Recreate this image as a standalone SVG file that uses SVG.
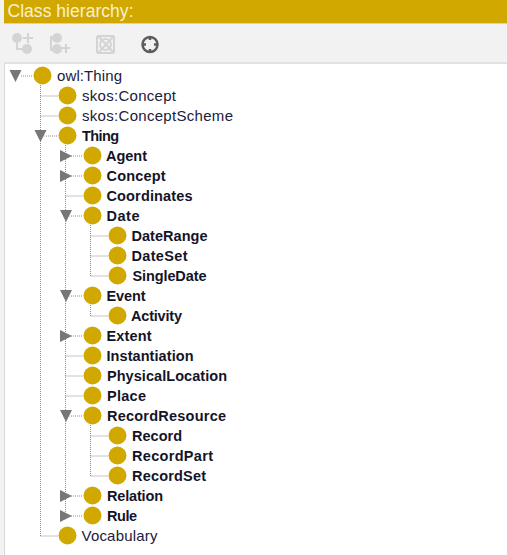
<svg xmlns="http://www.w3.org/2000/svg" width="507" height="555" viewBox="0 0 507 555">
<style>
text{font-family:"Liberation Sans",Arial,sans-serif;font-size:15px;fill:#20203c}
.b{font-weight:bold;fill:#141428;font-size:14.500px}
.n{fill:#d1a800}
.l{stroke:#8c8c8c;stroke-width:1;stroke-dasharray:1 1;fill:none}
.t{fill:#777}
.i{fill:none;stroke:#d4d4d4;stroke-width:2}
.f{fill:#d4d4d4}
</style>
<rect width="507" height="555" fill="#fff"/>
<rect width="4" height="555" fill="#f2f2f2"/>
<rect x="4" width="503" height="23.500" fill="#d1a800"/>
<text x="7.500" y="17" style="font-size:17.500px;fill:#f8f0d0" textLength="126">Class hierarchy:</text>
<rect x="4" y="24" width="503" height="38" fill="#f2f2f2"/>
<rect x="4" y="62" width="503" height="2" fill="#e2e2e2"/>
<rect x="4" y="63" width="1" height="492" fill="#d8d8d8"/>
<g id="toolbar">
<circle cx="17" cy="38" r="5" class="f"/><circle cx="27" cy="49" r="5" class="f"/><path d="M17 38V49H27M28 33v10M23 38h10" class="i"/>
<circle cx="57" cy="38" r="5" class="f"/><circle cx="57" cy="49" r="5" class="f"/><path d="M51 36v14h6M66 44v9M61 48h9" class="i"/>
<path d="M97 36h17M97 53h17M97 36v17M114 36v17M98 36l16 17M114 36l-16 17" class="i" stroke-width="1.500"/><circle cx="105.500" cy="44.500" r="5.500" fill="none" stroke="#d4d4d4" stroke-width="2"/>
<circle cx="150" cy="44.500" r="7.500" fill="none" stroke="#5c5c5c" stroke-width="2.500"/><path d="M150 37v3M150 49v3M143 44.500h3M154 44.500h3" stroke="#5c5c5c" stroke-width="2.500"/>
</g>
<g id="connectors" class="l">
<path d="M40.500 85V536M40.500 96H58M40.500 116H58M40.500 136H45M40.500 536H58"/>
<path d="M65.500 145V516M65.500 196H83M65.500 156H70M65.500 176H70M65.500 216H70M65.500 296H70M65.500 336H70M65.500 356H83M65.500 376H83M65.500 396H83M65.500 416H70M65.500 496H70M65.500 516H70"/>
<path d="M90.500 225V276M90.500 236H108M90.500 256H108M90.500 276H108"/>
<path d="M90.500 305V316M90.500 316H108"/>
<path d="M90.500 425V476M90.500 436H108M90.500 456H108M90.500 476H108"/>
<path d="M21 76H33M46 136H58M71 156H83M71 176H83M71 216H83M71 296H83M71 336H83M71 416H83M71 496H83M71 516H83"/>
</g>
<g id="toggles" class="t">
<path d="M9.500 70H21.500L15.500 82Z"/><path d="M34.500 130H46.500L40.500 142Z"/>
<path d="M60 150V162L72 156Z"/><path d="M60 170V182L72 176Z"/>
<path d="M60 210H72L66 222Z"/><path d="M60 290H72L66 302Z"/>
<path d="M60 330V342L72 336Z"/><path d="M60 410H72L66 422Z"/>
<path d="M60 490V502L72 496Z"/><path d="M60 510V522L72 516Z"/>
</g>
<g id="owl-Thing"><circle class="n" cx="42.500" cy="75.500" r="9"/><text x="57" y="81" textLength="65">owl:Thing</text></g>
<g id="skos-Concept"><circle class="n" cx="67.500" cy="95.500" r="9"/><text x="82" y="101" textLength="94">skos:Concept</text></g>
<g id="skos-ConceptScheme"><circle class="n" cx="67.500" cy="115.500" r="9"/><text x="82" y="121" textLength="151">skos:ConceptScheme</text></g>
<g id="Thing"><circle class="n" cx="67.500" cy="135.500" r="9"/><text class="b" x="82" y="141" textLength="37">Thing</text></g>
<g id="Agent"><circle class="n" cx="92.500" cy="155.500" r="9"/><text class="b" x="106" y="161" textLength="41">Agent</text></g>
<g id="Concept"><circle class="n" cx="92.500" cy="175.500" r="9"/><text class="b" x="106.500" y="181" textLength="59">Concept</text></g>
<g id="Coordinates"><circle class="n" cx="92.500" cy="195.500" r="9"/><text class="b" x="106.500" y="201" textLength="86">Coordinates</text></g>
<g id="Date"><circle class="n" cx="92.500" cy="215.500" r="9"/><text class="b" x="106.500" y="221" textLength="33">Date</text></g>
<g id="DateRange"><circle class="n" cx="117.500" cy="235.500" r="9"/><text class="b" x="131.500" y="241" textLength="76">DateRange</text></g>
<g id="DateSet"><circle class="n" cx="117.500" cy="255.500" r="9"/><text class="b" x="131.500" y="261" textLength="56">DateSet</text></g>
<g id="SingleDate"><circle class="n" cx="117.500" cy="275.500" r="9"/><text class="b" x="132.500" y="281" textLength="74">SingleDate</text></g>
<g id="Event"><circle class="n" cx="92.500" cy="295.500" r="9"/><text class="b" x="106.500" y="301" textLength="39">Event</text></g>
<g id="Activity"><circle class="n" cx="117.500" cy="315.500" r="9"/><text class="b" x="131" y="321" textLength="51">Activity</text></g>
<g id="Extent"><circle class="n" cx="92.500" cy="335.500" r="9"/><text class="b" x="106.500" y="341" textLength="45">Extent</text></g>
<g id="Instantiation"><circle class="n" cx="92.500" cy="355.500" r="9"/><text class="b" x="106.500" y="361" textLength="87">Instantiation</text></g>
<g id="PhysicalLocation"><circle class="n" cx="92.500" cy="375.500" r="9"/><text class="b" x="107" y="381" textLength="120">PhysicalLocation</text></g>
<g id="Place"><circle class="n" cx="92.500" cy="395.500" r="9"/><text class="b" x="107" y="401" textLength="39">Place</text></g>
<g id="RecordResource"><circle class="n" cx="92.500" cy="415.500" r="9"/><text class="b" x="107" y="421" textLength="119">RecordResource</text></g>
<g id="Record"><circle class="n" cx="117.500" cy="435.500" r="9"/><text class="b" x="132" y="441" textLength="50">Record</text></g>
<g id="RecordPart"><circle class="n" cx="117.500" cy="455.500" r="9"/><text class="b" x="132" y="461" textLength="81">RecordPart</text></g>
<g id="RecordSet"><circle class="n" cx="117.500" cy="475.500" r="9"/><text class="b" x="132" y="481" textLength="74">RecordSet</text></g>
<g id="Relation"><circle class="n" cx="92.500" cy="495.500" r="9"/><text class="b" x="107" y="501" textLength="56">Relation</text></g>
<g id="Rule"><circle class="n" cx="92.500" cy="515.500" r="9"/><text class="b" x="107" y="521" textLength="30">Rule</text></g>
<g id="Vocabulary"><circle class="n" cx="67.500" cy="535.500" r="9"/><text x="81.500" y="541" textLength="76">Vocabulary</text></g>
</svg>
